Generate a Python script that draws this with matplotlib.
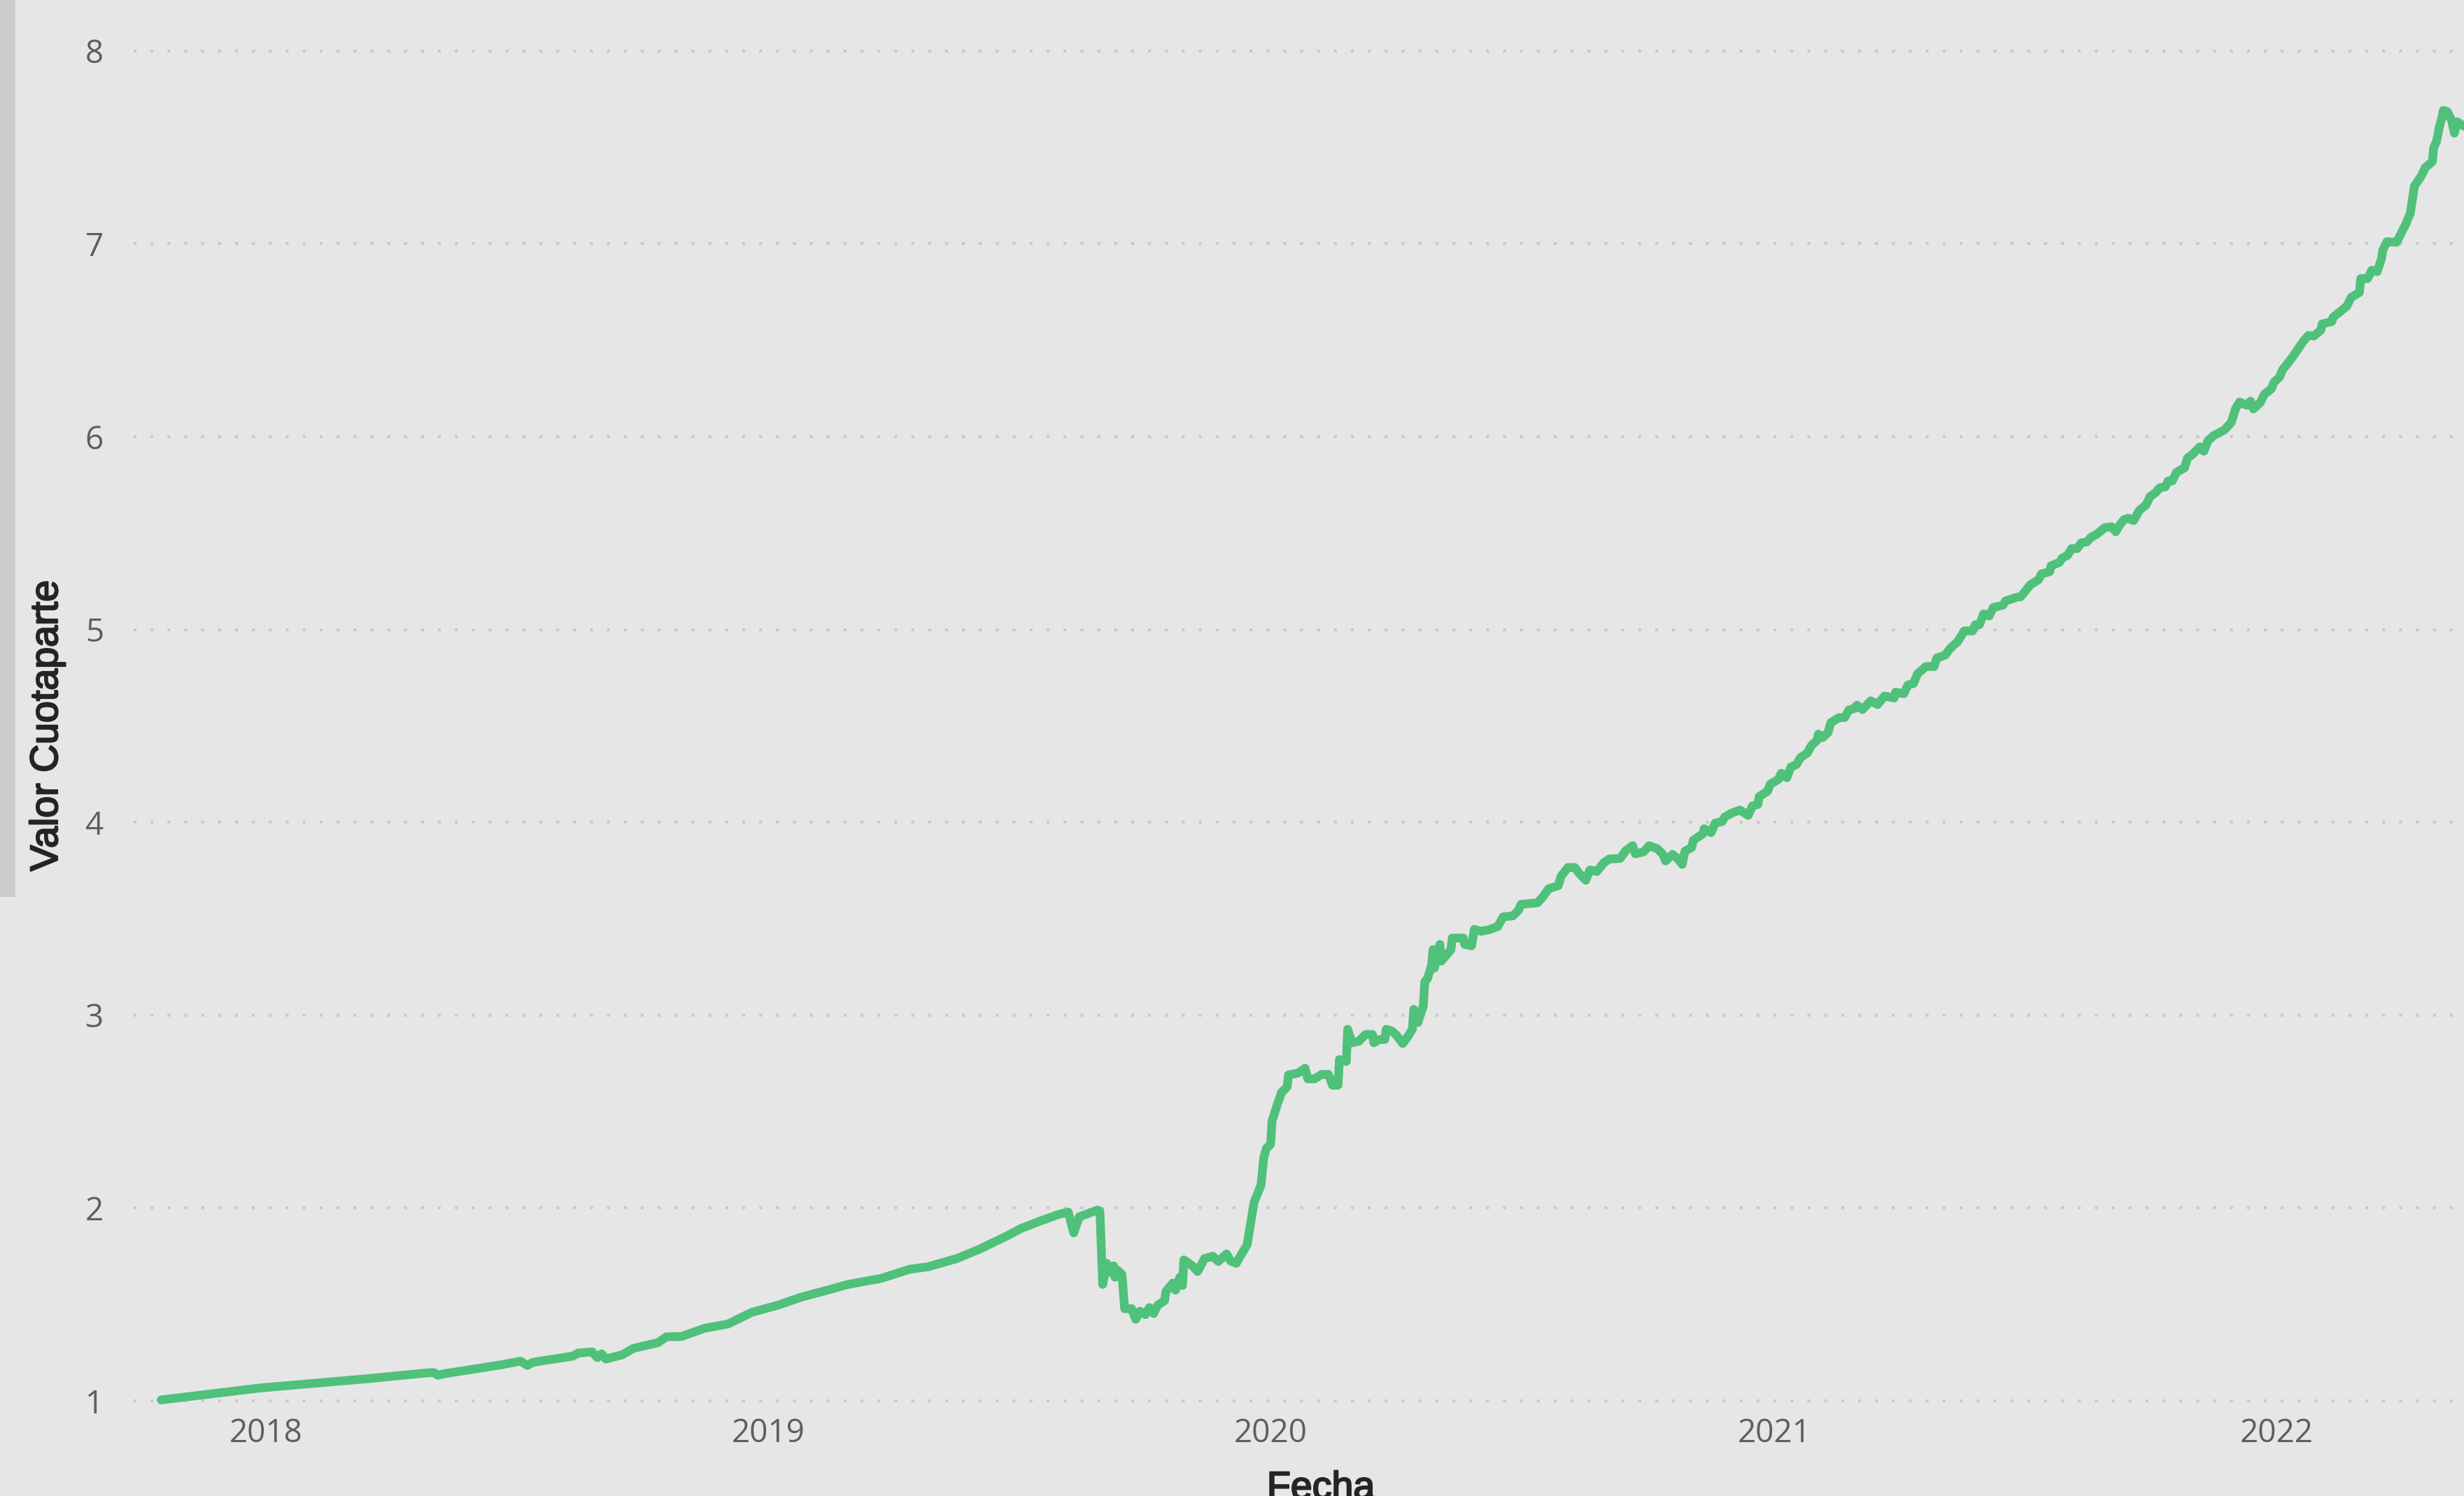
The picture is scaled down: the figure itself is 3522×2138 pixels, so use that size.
"""
Valor Cuotaparte vs Fecha
Line chart of a fund share value (cuotaparte), Oct 2017 - May 2022,
styled after a Power BI line visual.
"""

import pandas as pd
import matplotlib
matplotlib.use('Agg')
import matplotlib.pyplot as plt
import matplotlib.dates as mdates
import matplotlib.patheffects as pe
from matplotlib.patches import Rectangle

"""#################DATA#################"""
# Values.
fechas = [
    '2017-10-17', '2017-12-28', '2018-03-16', '2018-04-28', '2018-05-03',
    '2018-05-06', '2018-05-10', '2018-06-21', '2018-07-05', '2018-07-10',
    '2018-07-14', '2018-08-12', '2018-08-16', '2018-08-26', '2018-08-30',
    '2018-09-02', '2018-09-05', '2018-09-17', '2018-09-25', '2018-10-13',
    '2018-10-19', '2018-10-30', '2018-11-16', '2018-12-03', '2018-12-20',
    '2019-01-08', '2019-01-25', '2019-02-13', '2019-02-28', '2019-03-24',
    '2019-04-14', '2019-04-27', '2019-05-18', '2019-06-03', '2019-06-22',
    '2019-07-04', '2019-07-17', '2019-07-31', '2019-08-07', '2019-08-11',
    '2019-08-15', '2019-08-22', '2019-08-28', '2019-08-30', '2019-09-01',
    '2019-09-04', '2019-09-07', '2019-09-09', '2019-09-10', '2019-09-12',
    '2019-09-15', '2019-09-17', '2019-09-22', '2019-09-25', '2019-09-28',
    '2019-10-02', '2019-10-05', '2019-10-08', '2019-10-11', '2019-10-16',
    '2019-10-17', '2019-10-22', '2019-10-24', '2019-10-27', '2019-10-29',
    '2019-10-30', '2019-11-05', '2019-11-09', '2019-11-14', '2019-11-20',
    '2019-11-24', '2019-11-30', '2019-12-03', '2019-12-07', '2019-12-11',
    '2019-12-15', '2019-12-17', '2019-12-20', '2019-12-25', '2019-12-27',
    '2019-12-29', '2020-01-01', '2020-01-02', '2020-01-06', '2020-01-09',
    '2020-01-13', '2020-01-14', '2020-01-21', '2020-01-26', '2020-01-28',
    '2020-02-02', '2020-02-07', '2020-02-12', '2020-02-15', '2020-02-19',
    '2020-02-20', '2020-02-25', '2020-02-26', '2020-02-29', '2020-03-05',
    '2020-03-10', '2020-03-15', '2020-03-16', '2020-03-20', '2020-03-24',
    '2020-03-25', '2020-03-29', '2020-04-01', '2020-04-06', '2020-04-10',
    '2020-04-13', '2020-04-14', '2020-04-17', '2020-04-21', '2020-04-22',
    '2020-04-24', '2020-04-27', '2020-04-28', '2020-04-29', '2020-05-03',
    '2020-05-04', '2020-05-11', '2020-05-12', '2020-05-20', '2020-05-21',
    '2020-05-26', '2020-05-28', '2020-06-02', '2020-06-08', '2020-06-14',
    '2020-06-18', '2020-06-25', '2020-06-29', '2020-07-01', '2020-07-13',
    '2020-07-17', '2020-07-21', '2020-07-28', '2020-07-30', '2020-08-04',
    '2020-08-09', '2020-08-12', '2020-08-17', '2020-08-20', '2020-08-25',
    '2020-08-30', '2020-09-03', '2020-09-11', '2020-09-15', '2020-09-20',
    '2020-09-22', '2020-09-28', '2020-10-02', '2020-10-08', '2020-10-12',
    '2020-10-14', '2020-10-19', '2020-10-23', '2020-10-26', '2020-10-28',
    '2020-11-02', '2020-11-03', '2020-11-10', '2020-11-11', '2020-11-16',
    '2020-11-19', '2020-11-24', '2020-11-26', '2020-12-01', '2020-12-07',
    '2020-12-13', '2020-12-16', '2020-12-20', '2020-12-21', '2020-12-27',
    '2020-12-29', '2021-01-04', '2021-01-06', '2021-01-10', '2021-01-13',
    '2021-01-17', '2021-01-20', '2021-01-25', '2021-01-28', '2021-02-01',
    '2021-02-02', '2021-02-05', '2021-02-09', '2021-02-11', '2021-02-17',
    '2021-02-21', '2021-02-24', '2021-02-28', '2021-03-02', '2021-03-06',
    '2021-03-12', '2021-03-17', '2021-03-22', '2021-03-29', '2021-03-30',
    '2021-04-05', '2021-04-08', '2021-04-12', '2021-04-15', '2021-04-21',
    '2021-04-27', '2021-04-29', '2021-05-05', '2021-05-09', '2021-05-14',
    '2021-05-19', '2021-05-25', '2021-05-27', '2021-05-30', '2021-06-02',
    '2021-06-06', '2021-06-09', '2021-06-16', '2021-06-18', '2021-06-26',
    '2021-06-29', '2021-07-06', '2021-07-12', '2021-07-14', '2021-07-20',
    '2021-07-21', '2021-07-27', '2021-07-29', '2021-08-02', '2021-08-05',
    '2021-08-09', '2021-08-12', '2021-08-16', '2021-08-19', '2021-08-23',
    '2021-08-29', '2021-09-03', '2021-09-06', '2021-09-09', '2021-09-12',
    '2021-09-15', '2021-09-19', '2021-09-23', '2021-09-28', '2021-10-01',
    '2021-10-05', '2021-10-08', '2021-10-12', '2021-10-14', '2021-10-17',
    '2021-10-20', '2021-10-26', '2021-10-28', '2021-11-01', '2021-11-06',
    '2021-11-09', '2021-11-12', '2021-11-16', '2021-11-24', '2021-11-29',
    '2021-12-02', '2021-12-05', '2021-12-10', '2021-12-13', '2021-12-15',
    '2021-12-20', '2021-12-23', '2021-12-28', '2021-12-30', '2022-01-03',
    '2022-01-05', '2022-01-10', '2022-01-13', '2022-01-16', '2022-01-20',
    '2022-01-24', '2022-01-28', '2022-02-02', '2022-02-03', '2022-02-10',
    '2022-02-11', '2022-02-16', '2022-02-21', '2022-02-24', '2022-03-02',
    '2022-03-03', '2022-03-08', '2022-03-11', '2022-03-15', '2022-03-18',
    '2022-03-19', '2022-03-22', '2022-03-29', '2022-04-01', '2022-04-05',
    '2022-04-08', '2022-04-11', '2022-04-16', '2022-04-19', '2022-04-24',
    '2022-04-25', '2022-04-27', '2022-04-29', '2022-05-01', '2022-05-02',
    '2022-05-05', '2022-05-08', '2022-05-10', '2022-05-12', '2022-05-17',
]
valores = [
    1.005, 1.067, 1.115, 1.145, 1.147,
    1.133, 1.140, 1.187, 1.206, 1.184,
    1.200, 1.232, 1.248, 1.254, 1.224,
    1.244, 1.217, 1.239, 1.272, 1.302,
    1.332, 1.334, 1.377, 1.399, 1.459,
    1.496, 1.538, 1.574, 1.604, 1.635,
    1.683, 1.695, 1.738, 1.785, 1.850,
    1.895, 1.931, 1.967, 1.979, 1.871,
    1.955, 1.973, 1.989, 1.985, 1.604,
    1.713, 1.665, 1.700, 1.641, 1.677,
    1.655, 1.478, 1.478, 1.423, 1.465,
    1.447, 1.484, 1.453, 1.496, 1.520,
    1.568, 1.611, 1.574, 1.641, 1.598,
    1.731, 1.701, 1.671, 1.738, 1.750,
    1.723, 1.762, 1.725, 1.713, 1.762,
    1.810, 1.900, 2.030, 2.118, 2.260,
    2.310, 2.330, 2.450, 2.540, 2.600,
    2.628, 2.690, 2.700, 2.725, 2.670,
    2.670, 2.693, 2.693, 2.637, 2.637,
    2.770, 2.760, 2.927, 2.857, 2.865,
    2.900, 2.900, 2.857, 2.874, 2.874,
    2.927, 2.918, 2.900, 2.853, 2.892,
    2.927, 3.030, 2.962, 3.050, 3.173,
    3.190, 3.260, 3.340, 3.244, 3.367,
    3.280, 3.340, 3.400, 3.400, 3.367,
    3.360, 3.445, 3.435, 3.444, 3.460,
    3.510, 3.515, 3.543, 3.575, 3.583,
    3.615, 3.656, 3.672, 3.720, 3.766,
    3.766, 3.737, 3.700, 3.753, 3.745,
    3.790, 3.810, 3.813, 3.853, 3.879,
    3.837, 3.847, 3.879, 3.863, 3.834,
    3.800, 3.834, 3.810, 3.782, 3.850,
    3.870, 3.907, 3.940, 3.967, 3.947,
    3.996, 4.004, 4.028, 4.048, 4.064,
    4.036, 4.085, 4.093, 4.134, 4.161,
    4.198, 4.223, 4.255, 4.231, 4.287,
    4.300, 4.336, 4.360, 4.400, 4.425,
    4.457, 4.440, 4.466, 4.517, 4.543,
    4.543, 4.582, 4.590, 4.608, 4.585,
    4.630, 4.611, 4.655, 4.645, 4.675,
    4.667, 4.712, 4.720, 4.770, 4.808,
    4.808, 4.852, 4.867, 4.904, 4.936,
    4.993, 4.993, 5.025, 5.025, 5.081,
    5.070, 5.114, 5.126, 5.148, 5.167,
    5.170, 5.232, 5.259, 5.288, 5.300,
    5.330, 5.348, 5.370, 5.385, 5.420,
    5.420, 5.450, 5.454, 5.478, 5.493,
    5.528, 5.533, 5.507, 5.543, 5.570,
    5.577, 5.565, 5.617, 5.646, 5.690,
    5.710, 5.735, 5.740, 5.770, 5.770,
    5.814, 5.839, 5.888, 5.910, 5.947,
    5.925, 5.979, 6.005, 6.035, 6.075,
    6.145, 6.180, 6.163, 6.184, 6.144,
    6.177, 6.220, 6.248, 6.282, 6.309,
    6.345, 6.390, 6.419, 6.450, 6.493,
    6.525, 6.522, 6.552, 6.585, 6.597,
    6.620, 6.648, 6.678, 6.722, 6.748,
    6.820, 6.820, 6.863, 6.856, 6.922,
    6.967, 7.011, 7.008, 7.050, 7.107,
    7.160, 7.300, 7.352, 7.396, 7.426,
    7.500, 7.530, 7.603, 7.655, 7.692,
    7.685, 7.640, 7.574, 7.633, 7.610,
]
yticks = [1, 2, 3, 4, 5, 6, 7, 8]

"""#################FIGURE#################"""
W, H = 3522, 2138
bg = '#e6e6e6'
fig = plt.figure(figsize=(W / 100, H / 100), dpi=100)
fig.patch.set_facecolor(bg)

# Plot area (pixel box converted to figure fractions)
ax = fig.add_axes([191 / W, (H - 2015) / H, (W - 191) / W, (2015 - 50) / H])
ax.set_facecolor(bg)

ax.plot(pd.to_datetime(fechas), valores, color='#4fc17a', lw=9,
        solid_capstyle='round', solid_joinstyle='round', zorder=3)

ax.set_xlim(pd.Timestamp('2017-09-27'), pd.Timestamp('2022-05-17'))
ax.set_ylim(0.953, 8.083)
ax.set_yticks(yticks)
ax.xaxis.set_major_locator(mdates.YearLocator())
ax.xaxis.set_major_formatter(mdates.DateFormatter('%Y'))

# Dotted horizontal gridlines, no spines or tick marks
ax.set_axisbelow(True)
ax.grid(axis='y', color='#c8c8c8', lw=2.9, linestyle=(0, (1, 5)))
ax.grid(axis='x', visible=False)
for s in ax.spines.values():
    s.set_visible(False)
ax.tick_params(length=0, labelsize=33, labelcolor='#605e5c')
ax.tick_params(axis='y', pad=31)
ax.tick_params(axis='x', pad=8)
for lbl in ax.get_xticklabels() + ax.get_yticklabels():
    lbl.set_family('Open Sans')

# Axis titles (thin stroke to get closer to the heavier DIN look)
bold = [pe.withStroke(linewidth=1.6, foreground='#252423')]
fig.text(68 / W, 1 - 1037 / H, 'Valor Cuotaparte', rotation=90,
         ha='center', va='center', fontsize=40, color='#252423',
         family='Liberation Sans', path_effects=bold)
fig.text(1888 / W, 1 - 2142 / H, 'Fecha', ha='center', va='baseline',
         fontsize=40, color='#252423', family='Liberation Sans',
         path_effects=bold)

# Grey strip on the left edge
fig.add_artist(Rectangle((0, 1 - 1282 / H), 22 / W, 1282 / H,
                         transform=fig.transFigure, color='#cdcccb', lw=0))

fig.savefig('out.png', dpi=100, facecolor=fig.get_facecolor())
